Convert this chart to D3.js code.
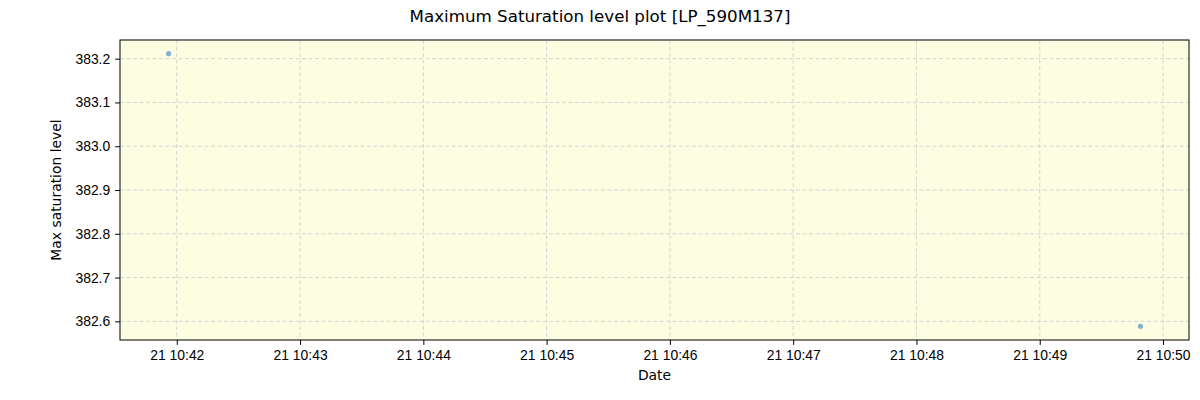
<!DOCTYPE html>
<html>
<head>
<meta charset="utf-8">
<script src="https://cdn.jsdelivr.net/npm/d3@7"></script>
<style>
  body { margin: 0; background: #fff; }
  svg { font-family: "DejaVu Sans", sans-serif; }
  .axis text { font-size: 13.9px; fill: #000; }
  .axis path, .axis line { stroke: #000; }
</style>
</head>
<body>
<svg id="chart" width="1200" height="400"></svg>
<script>
// data
const times = ['2024-01-21T10:41:56', '2024-01-21T10:49:49'];
const levels = [383.2115, 382.5885];
const yTicks = [382.6, 382.7, 382.8, 382.9, 383.0, 383.1, 383.2];
const xTickTimes = ['10:42', '10:43', '10:44', '10:45', '10:46', '10:47', '10:48', '10:49', '10:50'];

const parseTime = d3.timeParse('%Y-%m-%dT%H:%M:%S');
const dataset = times.map((t, i) => ({ date: parseTime(t), level: levels[i] }));

const mLeft = 120, mRight = 1189, mTop = 40, mBottom = 340;

const svg = d3.select('#chart');

// matplotlib-like 5% margins around the data
const tExt = d3.extent(dataset, d => d.date.getTime());
const tPad = (tExt[1] - tExt[0]) * 0.05;
const xScale = d3.scaleTime()
  .domain([new Date(tExt[0] - tPad), new Date(tExt[1] + tPad)])
  .range([mLeft, mRight]);

const yExt = d3.extent(dataset, d => d.level);
const yPad = (yExt[1] - yExt[0]) * 0.05;
const yScale = d3.scaleLinear()
  .domain([yExt[0] - yPad, yExt[1] + yPad])
  .range([mBottom, mTop]);

const xTicks = xTickTimes.map(t => parseTime('2024-01-21T' + t + ':00'));

// background
svg.append('rect')
  .attr('x', mLeft).attr('y', mTop)
  .attr('width', mRight - mLeft).attr('height', mBottom - mTop)
  .attr('fill', '#fdfde1');

// grid
svg.append('g').selectAll('line')
  .data(xTicks)
  .enter().append('line')
  .attr('x1', d => xScale(d)).attr('x2', d => xScale(d))
  .attr('y1', mTop).attr('y2', mBottom)
  .attr('stroke', '#d0d0d0').attr('stroke-dasharray', '4,2.5').attr('stroke-width', 0.9);

svg.append('g').selectAll('line')
  .data(yTicks)
  .enter().append('line')
  .attr('x1', mLeft).attr('x2', mRight)
  .attr('y1', d => yScale(d)).attr('y2', d => yScale(d))
  .attr('stroke', '#d0d0d0').attr('stroke-dasharray', '4,2.5').attr('stroke-width', 0.9);

// points
svg.append('g').selectAll('circle')
  .data(dataset)
  .enter().append('circle')
  .attr('cx', d => xScale(d.date))
  .attr('cy', d => yScale(d.level))
  .attr('r', 2.6)
  .attr('fill', '#1f77b4')
  .attr('fill-opacity', 0.55);

// frame
svg.append('rect')
  .attr('x', mLeft).attr('y', mTop)
  .attr('width', mRight - mLeft).attr('height', mBottom - mTop)
  .attr('fill', 'none').attr('stroke', '#000').attr('stroke-width', 1);

// AXES
svg.append('g')
  .attr('class', 'axis')
  .attr('transform', `translate(0, ${mBottom})`)
  .call(d3.axisBottom(xScale).tickValues(xTicks).tickFormat(d3.timeFormat('%d %H:%M')).tickSize(4.9).tickPadding(4.9))
  .call(g => g.select('.domain').remove());

svg.append('g')
  .attr('class', 'axis')
  .attr('transform', `translate(${mLeft}, 0)`)
  .call(d3.axisLeft(yScale).tickValues(yTicks).tickFormat(d3.format('.1f')).tickSize(4.9).tickPadding(4.9))
  .call(g => g.select('.domain').remove());

// labels
svg.append('text')
  .attr('x', (mLeft + mRight) / 2).attr('y', 380)
  .attr('text-anchor', 'middle').attr('font-size', 13.9)
  .text('Date');

svg.append('text')
  .attr('transform', `translate(61, ${(mTop + mBottom) / 2}) rotate(-90)`)
  .attr('text-anchor', 'middle').attr('font-size', 13.9)
  .text('Max saturation level');

svg.append('text')
  .attr('x', 600).attr('y', 22)
  .attr('text-anchor', 'middle').attr('font-size', 16.7)
  .text('Maximum Saturation level plot [LP_590M137]');
</script>
</body>
</html>
